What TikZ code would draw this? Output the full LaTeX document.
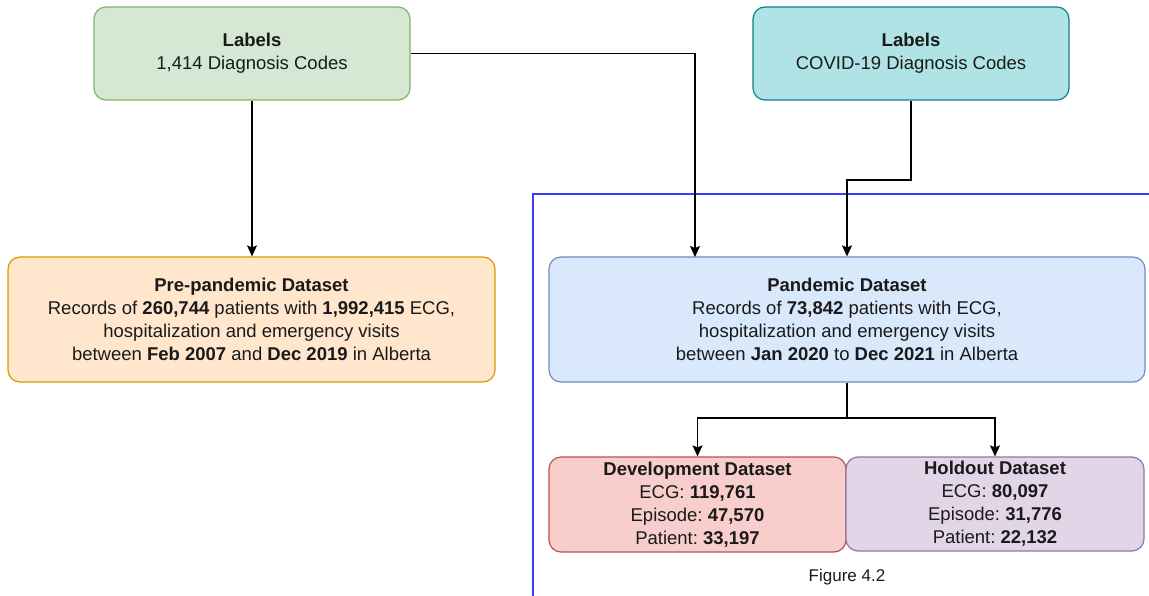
\documentclass[tikz,border=0pt]{standalone}
\usepackage{fontspec}
\setmainfont{Liberation Sans}
\usetikzlibrary{arrows.meta}
\frenchspacing

\definecolor{greenFill}{HTML}{D5E8D4}\definecolor{greenLine}{HTML}{82B366}
\definecolor{tealFill}{HTML}{B0E3E6}\definecolor{tealLine}{HTML}{0E8088}
\definecolor{orangeFill}{HTML}{FFE6CC}\definecolor{orangeLine}{HTML}{D79B00}
\definecolor{blueFill}{HTML}{DAE8FC}\definecolor{blueLine}{HTML}{6C8EBF}
\definecolor{redFill}{HTML}{F8CECC}\definecolor{redLine}{HTML}{B85450}
\definecolor{purpleFill}{HTML}{E1D5E7}\definecolor{purpleLine}{HTML}{9673A6}
\definecolor{frameLine}{HTML}{3C3CFF}
\definecolor{ink}{HTML}{1A1A1A}

\tikzset{
  box/.style={draw, rounded corners=12pt, line width=1.2pt, align=center,
    inner sep=0pt, text=ink, font=\fontsize{18.5}{23}\selectfont},
  link/.style={draw=black, line width=1.3pt,
    -{Stealth[length=11pt, width=10pt, inset=2pt]}},
  plain/.style={draw=black, line width=1.3pt},
}

\begin{document}
\begin{tikzpicture}[x=1pt, y=-1pt]
  \useasboundingbox (0,0) rectangle (1149,596);
  \fill[white] (0,0) rectangle (1149,596);

  % frame around the pandemic part
  \draw[draw=frameLine, line width=1.3pt] (533,596) -- (533,194) -- (1149,194);

  % label sources
  \node[box, fill=greenFill, draw=greenLine, minimum width=316pt, minimum height=93pt]
    (diag) at (252,53.5) {\textbf{Labels}\\1,414 Diagnosis Codes};
  \node[box, fill=tealFill, draw=tealLine, minimum width=316pt, minimum height=93pt]
    (covid) at (911,53.5) {\textbf{Labels}\\COVID-19 Diagnosis Codes};

  % datasets
  \node[box, fill=orangeFill, draw=orangeLine, minimum width=487pt, minimum height=125pt]
    (pre) at (251.5,319.5) {\textbf{Pre-pandemic Dataset}\\
      Records of \textbf{260,744} patients with \textbf{1,992,415} ECG,\\
      hospitalization and emergency visits\\
      between \textbf{Feb 2007} and \textbf{Dec 2019} in Alberta};
  \node[box, fill=blueFill, draw=blueLine, minimum width=596pt, minimum height=125pt]
    (pan) at (847,319.5) {\textbf{Pandemic Dataset}\\
      Records of \textbf{73,842} patients with ECG,\\
      hospitalization and emergency visits\\
      between \textbf{Jan 2020} to \textbf{Dec 2021} in Alberta};

  \node[box, fill=redFill, draw=redLine, minimum width=297pt, minimum height=95pt]
    (dev) at (697.5,504.5) {\textbf{Development Dataset}\\
      ECG: \textbf{119,761}\\Episode: \textbf{47,570}\\Patient: \textbf{33,197}};
  \node[box, fill=purpleFill, draw=purpleLine, minimum width=298pt, minimum height=94pt]
    (hold) at (995,504) {\textbf{Holdout Dataset}\\
      ECG: \textbf{80,097}\\Episode: \textbf{31,776}\\Patient: \textbf{22,132}};

  \node[text=ink, font=\fontsize{17}{20}\selectfont] (fig) at (847,577) {Figure 4.2};

  % connectors
  \coordinate (panInLeft) at (695,257);
  \coordinate (covidTurn) at (847,180);
  \coordinate (split) at (847,418);

  \draw[link] (diag.south) -- (diag.south |- pre.north);
  \draw[link] (diag.east) -| (panInLeft);
  \draw[link] (covid.south) |- (covidTurn) -- (pan.north);
  \draw[plain] (pan.south) -- (split);
  \draw[link] (split) -| (dev.north);
  \draw[link] (split) -| (hold.north);
\end{tikzpicture}
\end{document}
